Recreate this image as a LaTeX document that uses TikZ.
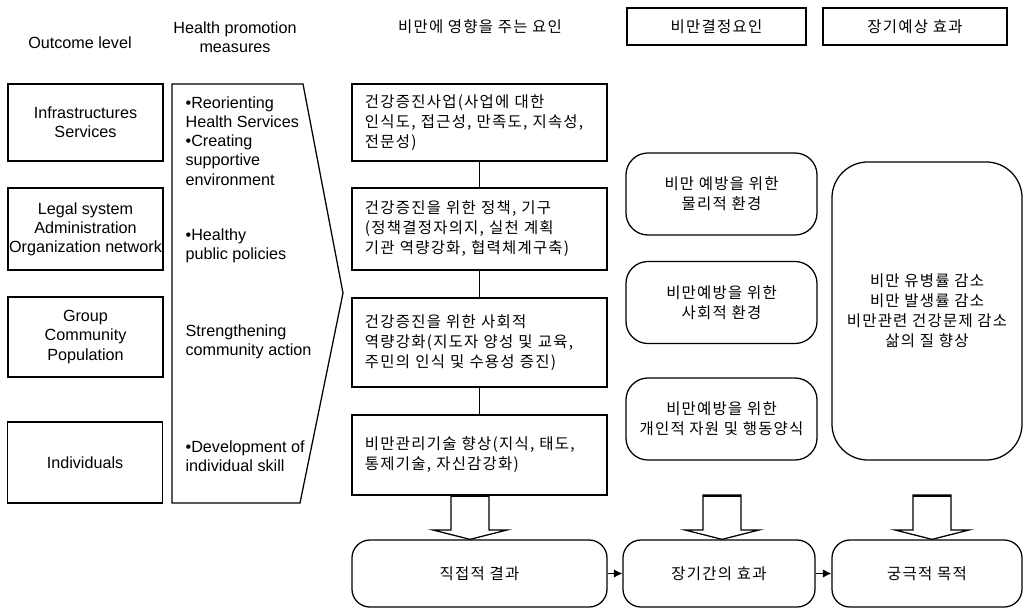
\documentclass[tikz,border=0pt]{standalone}
\usepackage{fontspec}
\setmainfont{Liberation Sans}
\newfontfamily\kr[LetterSpace=8]{Noto Sans CJK KR}
\usetikzlibrary{arrows.meta}

\begin{document}
\begin{tikzpicture}[x=0.025cm, y=-0.025cm, line width=0.9pt,
    every node/.style={font=\fontsize{11.5}{13.6}\selectfont},
    hangul/.style={font=\kr\fontsize{11}{14.2}\selectfont},
    lvlbox/.style={draw, minimum width=3.875cm, minimum height=2cm, align=center, inner sep=0pt},
    factbox/.style={draw, hangul, minimum width=6.375cm, text width=5.725cm, inner xsep=0.325cm, align=left},
    envbox/.style={draw, hangul, rounded corners=0.55cm, minimum width=4.775cm, minimum height=2.05cm, align=center},
    headbox/.style={draw, hangul, minimum height=0.925cm},
    resbox/.style={draw, hangul, rounded corners=0.45cm, minimum height=1.675cm}]
  \useasboundingbox (0,0) rectangle (1026,610);

  % column heads
  \node (hOut) at (80,43) {Outcome level};
  \node[align=center] (hHpm) at (235,37) {Health promotion\\measures};
  \node[hangul] (hFac) at (480,27) {비만에 영향을 주는 요인};
  \node[headbox, minimum width=4.475cm] (hDet) at (716.5,26.5) {비만결정요인};
  \node[headbox, minimum width=4.6cm] (hLong) at (915,26.5) {장기예상 효과};

  % outcome levels
  \node[lvlbox, minimum height=1.925cm] (l1) at (85.5,122.5) {Infrastructures\\Services};
  \node[lvlbox, minimum height=2.05cm] (l2) at (85.5,229) {Legal system\\Administration\\Organization network};
  \node[lvlbox] (l3) at (85.5,337) {Group\\Community\\Population};
  \node[lvlbox, minimum height=2.025cm] (l4) at (85,462.5) {Individuals};

  % health promotion measures
  \draw (172,84) -- (303,84) -- (343,293) -- (300,503) -- (172,503) -- cycle;
  \node[align=left, anchor=west, inner sep=0pt] (p1) at (185,141)
    {\textbullet Reorienting\\Health Services\\\textbullet Creating\\supportive\\environment};
  \node[align=left, anchor=west, inner sep=0pt] (p2) at (185,246) {\textbullet Healthy\\public policies};
  \node[align=left, anchor=west, inner sep=0pt] (p3) at (185,342) {Strengthening\\community action};
  \node[align=left, anchor=west, inner sep=0pt] (p4) at (185,456) {\textbullet Development of\\individual skill};

  % factors
  \node[factbox, minimum height=1.925cm] (m1) at (479.5,122.5)
    {건강증진사업(사업에 대한\\인식도, 접근성, 만족도, 지속성,\\전문성)};
  \node[factbox, minimum height=2.05cm] (m2) at (479.5,229)
    {건강증진을 위한 정책, 기구\\(정책결정자의지, 실천 계획\\기관 역량강화, 협력체계구축)};
  \node[factbox, minimum height=2.225cm] (m3) at (479.5,342.5)
    {건강증진을 위한 사회적\\역량강화(지도자 양성 및 교육,\\주민의 인식 및 수용성 증진)};
  \node[factbox, minimum height=2cm] (m4) at (479.5,455)
    {비만관리기술 향상(지식, 태도,\\통제기술, 자신감강화)};
  \draw (m1) -- (m2);
  \draw (m2) -- (m3);
  \draw (m3) -- (m4);

  % determinants
  \node[envbox] (r1) at (721.5,194) {비만 예방을 위한\\물리적 환경};
  \node[envbox] (r2) at (721.5,302.5) {비만예방을 위한\\사회적 환경};
  \node[envbox] (r3) at (721.5,419) {비만예방을 위한\\개인적 자원 및 행동양식};
  \node[draw, hangul, rounded corners=0.9cm, minimum width=4.75cm, minimum height=7.45cm, align=center]
    (big) at (927,311) {비만 유병률 감소\\비만 발생률 감소\\비만관련 건강문제 감소\\삶의 질 향상};

  % results
  \node[resbox, minimum width=6.375cm] (b1) at (479.5,573.5) {직접적 결과};
  \node[resbox, minimum width=4.8cm] (b2) at (719,573.5) {장기간의 효과};
  \node[resbox, minimum width=4.75cm] (b3) at (927,573.5) {궁극적 목적};
  \draw[-{Latex[length=6pt,width=6pt]}] (b1) -- (b2);
  \draw[-{Latex[length=6pt,width=6pt]}] (b2) -- (b3);

  \foreach \cx/\tgt in {470/b1, 722/b2, 932/b3} {
    \draw[fill=white] (\cx-19,495) -- (\cx-19,530) -- (\cx-37,530) -- (\cx,0 |- \tgt.north)
      -- (\cx+37,530) -- (\cx+19,530) -- (\cx+19,495) -- cycle;
    \draw[line width=2pt] (\cx-19,496) -- (\cx+19,496);
  }
\end{tikzpicture}
\end{document}
